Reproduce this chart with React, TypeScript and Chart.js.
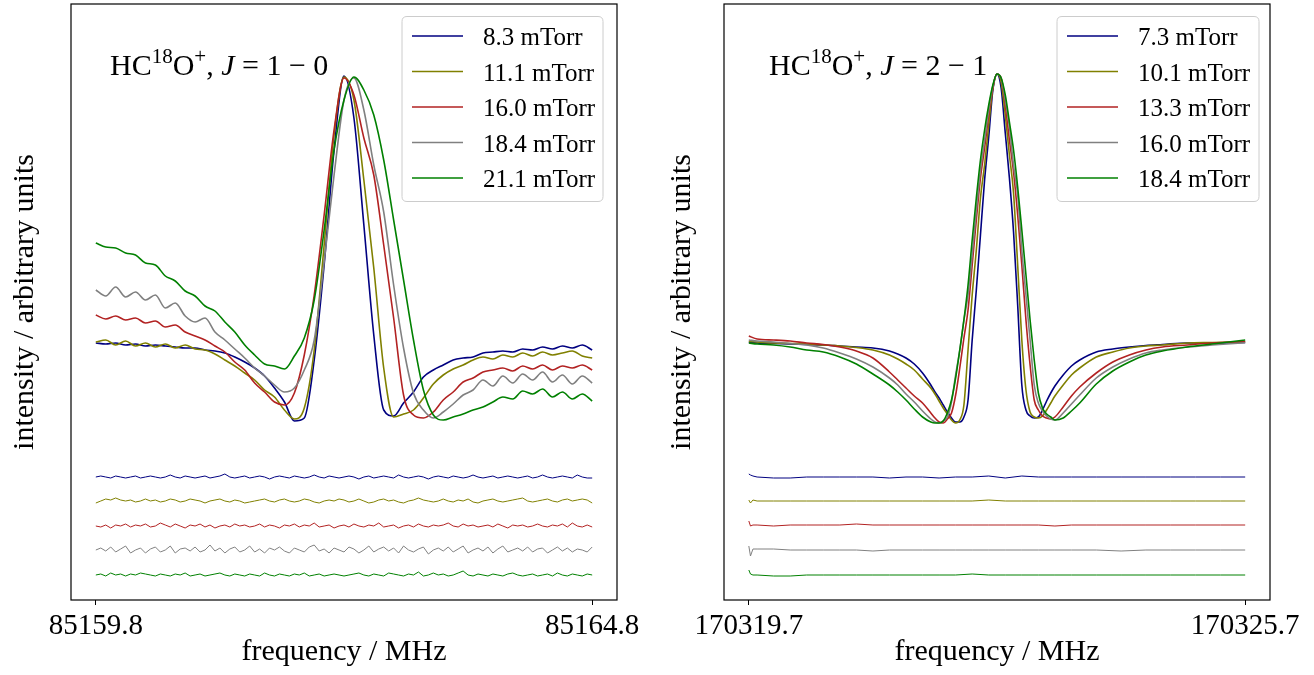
import React, { useEffect, useRef } from "react";
import { Chart, registerables } from "chart.js";

Chart.register(...registerables);

const SERIF = "'Liberation Serif', 'Times New Roman', Times, serif";
const COLORS = ["#000080", "#808000", "#b22222", "#808080", "#008000"];

// ---------------- Panel A : HC18O+  J = 1 - 0 ----------------
const A_FREQ_START = 85159.8; // MHz, spectrum sampling start
const A_FREQ_STEP = 0.1; // MHz
const A_RES_STEP = 0.05; // MHz, residual sampling
const A_XMIN = 85159.55;
const A_XMAX = 85165.05;
const A_TICKS = [85159.8, 85164.8];
const A_LABELS = ["8.3 mTorr", "11.1 mTorr", "16.0 mTorr", "18.4 mTorr", "21.1 mTorr"];

const A_SPEC_83 = [257, 256, 257, 255, 256, 254, 255, 254, 253, 252, 252, 250, 249, 247, 243, 238, 232, 224, 212, 198, 179, 182, 240, 335, 450, 524, 482, 375, 265, 190, 184, 197, 208, 223, 230, 235, 240, 242, 243, 247, 248, 249, 248, 251, 250, 253, 251, 254, 252, 255, 250];
const A_SPEC_111 = [258, 260, 255, 259, 254, 257, 253, 256, 252, 255, 251, 250, 246, 240, 234, 227, 220, 210, 203, 190, 181, 192, 250, 355, 465, 523, 500, 420, 332, 232, 183, 186, 190, 202, 216, 225, 231, 235, 240, 243, 241, 245, 243, 247, 244, 248, 245, 247, 249, 244, 242];
const A_SPEC_160 = [285, 281, 284, 280, 282, 277, 279, 273, 275, 268, 264, 260, 254, 248, 238, 230, 217, 208, 198, 195, 207, 245, 305, 385, 470, 522, 505, 462, 425, 355, 282, 205, 185, 182, 188, 200, 208, 218, 222, 228, 230, 232, 229, 234, 231, 235, 230, 234, 232, 235, 230];
const A_SPEC_184 = [310, 304, 313, 303, 308, 300, 305, 292, 297, 284, 278, 282, 268, 260, 251, 242, 232, 224, 215, 208, 212, 230, 260, 338, 425, 500, 522, 490, 435, 388, 315, 252, 207, 190, 182, 188, 196, 205, 210, 220, 214, 224, 217, 226, 220, 228, 218, 225, 216, 224, 217];
const A_SPEC_211 = [357, 353, 352, 347, 345, 337, 335, 324, 319, 309, 304, 294, 289, 278, 268, 255, 245, 236, 234, 231, 244, 262, 300, 370, 450, 500, 523, 510, 485, 440, 380, 320, 260, 210, 185, 180, 183, 186, 190, 193, 198, 203, 201, 209, 206, 211, 203, 208, 201, 206, 199];

// residuals (observed - fit), plotted with a vertical offset
const A_RES_OFFSETS = [123, 99, 74, 50, 25];
const A_RES_83 = [0, 1, 0, -1, 1, 0, -1, 0, 1, -1, 0, 1, 0, -1, 0, 2, 0, -1, 1, 0, -1, 0, 1, -1, 0, 1, 3, 0, -1, 0, 1, -1, 0, 1, 0, -2, 0, 1, 0, -1, 1, 0, -1, 0, 2, 0, -1, 1, 0, -1, 0, 1, 0, -2, 0, 1, -1, 0, 1, 0, -1, 2, 0, -1, 0, 1, 0, -2, 0, 1, 0, -1, 1, 0, -1, 0, 2, 0, -1, 0, 1, -1, 0, 1, 0, -1, 0, 1, -1, 0, 2, 0, -1, 0, 1, 0, -1, 2, 0, -1, -1];
const A_RES_111 = [-2, 0, 2, 1, 3, 1, 0, 1, -1, 0, 2, 0, 1, -1, 0, 2, 1, -1, 0, 2, 1, 0, -2, 0, 1, 2, 0, -1, 1, 0, -2, -1, 0, 1, 2, 0, -1, 1, 2, 0, -1, 0, 2, 1, -1, -2, 0, 1, 0, 2, 1, -1, 0, 2, 0, -2, -1, 1, 2, 0, 1, -1, -2, 0, 1, 3, 1, 0, -1, 0, 2, 0, -1, 1, 0, 2, -1, -2, 0, 1, 2, 0, -1, 0, 1, 2, 3, 0, -1, 0, 1, 2, 0, -1, 1, 2, 0, 1, 2, 1, -2];
const A_RES_160 = [0, -1, 1, -2, 1, 0, 2, -1, 1, 0, 2, -1, 0, 3, 1, -1, 2, 0, -2, 1, 0, 2, -1, 1, -2, 0, 1, -1, 2, 0, 1, -1, 0, 2, -1, 1, 0, -2, 1, 0, 2, -1, 1, 0, 3, -1, 0, 1, -2, 0, 1, -1, 2, 0, -1, 1, 0, 3, -1, 0, 1, -2, 0, 1, -1, 2, 0, -1, 1, 0, 1, 3, 0, -1, 2, 0, 1, -1, 0, 1, -1, 2, 0, -2, 1, 0, 1, -1, 0, 2, 0, -1, 1, 0, 2, -1, 3, 0, -1, 1, -1];
const A_RES_184 = [0, 2, -1, 3, -2, 1, 4, -3, 0, 2, -3, 1, 3, -2, 0, 4, -3, 1, 2, -1, 3, -2, 0, 5, -1, 2, -3, 1, 3, -2, 0, 4, -2, 1, -3, 2, 0, 3, -1, -3, 2, 0, -2, 3, 5, -1, 1, -3, 2, 0, -2, 3, 1, -3, 0, 4, -2, 1, 3, -1, 2, -3, 4, 0, -2, 1, 3, -4, 0, 2, -1, 3, -2, 1, 4, -3, 0, 2, -1, 3, -3, 1, 4, -2, 0, 2, -1, 3, -2, 1, 2, -3, 0, 3, -1, 2, -2, 1, 0, -2, 3];
const A_RES_211 = [0, 1, -1, 2, 0, 1, -1, 1, 0, 2, 1, 0, -1, 1, 0, -1, 1, 0, 2, -1, 0, 1, -1, 0, 1, 2, 0, -1, 1, 0, -1, 1, 0, -1, 2, 0, -1, 1, 0, -1, 1, 0, 2, -1, 0, 1, -1, 0, 1, 0, -1, 0, 1, 2, 0, -1, 1, 0, -1, 2, 1, 0, -1, 1, 0, 3, -1, 0, 2, 0, 1, -1, 0, 2, 4, 0, -1, 1, 0, -1, 1, 0, -1, 1, 2, 0, -1, 0, 1, -1, 0, 1, -1, 2, 0, -1, 1, 0, -1, 1, 0];

// ---------------- Panel B : HC18O+  J = 2 - 1 ----------------
const B_XMIN = 170319.4;
const B_XMAX = 170326.0;
const B_TICKS = [170319.7, 170325.7];
const B_LABELS = ["7.3 mTorr", "10.1 mTorr", "13.3 mTorr", "16.0 mTorr", "18.4 mTorr"];
const B_FREQ = [170319.7, 170319.8, 170320.0, 170320.2, 170320.4, 170320.6, 170320.8, 170321.0, 170321.2, 170321.4, 170321.5, 170321.6, 170321.7, 170321.8, 170321.9, 170321.95, 170322.0, 170322.05, 170322.1, 170322.15, 170322.2, 170322.25, 170322.3, 170322.35, 170322.4, 170322.45, 170322.5, 170322.55, 170322.6, 170322.65, 170322.7, 170322.75, 170322.8, 170322.85, 170322.9, 170322.95, 170323.0, 170323.05, 170323.1, 170323.15, 170323.2, 170323.25, 170323.3, 170323.35, 170323.4, 170323.5, 170323.6, 170323.7, 170323.9, 170324.1, 170324.3, 170324.5, 170324.7, 170325.0, 170325.3, 170325.7];
const B_SPEC_73 = [258, 257, 256.5, 256, 255.5, 255, 254, 253, 252, 249, 246, 242, 236, 227, 215, 208, 202, 195, 188, 182, 178, 178, 183, 200, 260, 310, 365, 420, 463, 510, 526, 512, 467, 422, 368, 295, 215, 190, 184, 182, 183, 190, 199, 207, 214, 225, 234, 240, 248, 251, 253, 254.5, 255.5, 257, 257, 257.5];
const B_SPEC_101 = [258.5, 258, 257, 256.5, 256, 255, 254, 252.5, 250, 245, 241, 236, 230, 221, 212, 206, 199, 192, 186, 180, 177, 180, 195, 250, 305, 350, 402, 435, 475, 512, 526, 518, 485, 445, 407, 335, 260, 210, 188, 183, 182, 184, 190, 197, 204, 215, 225, 232, 243, 248, 252, 254, 255, 257, 257.5, 258.3];
const B_SPEC_133 = [264, 261, 260, 259, 257, 255.5, 253, 249, 242, 228, 220, 212, 204, 197, 187, 182, 178, 177, 181, 187, 205, 232, 262, 290, 335, 380, 422, 452, 485, 512, 526, 522, 495, 460, 428, 385, 335, 280, 235, 200, 190, 184, 182, 181, 183, 193, 204, 213, 227, 238, 245, 250, 253, 255, 257, 258.5];
const B_SPEC_160 = [260, 259, 258, 256.5, 255, 252, 247, 241, 233, 222, 215, 206, 198, 189, 181, 178, 177, 179, 183, 198, 225, 250, 280, 305, 345, 390, 430, 460, 490, 514, 526, 522, 500, 473, 435, 405, 350, 305, 260, 215, 197, 189, 184, 181, 180, 187, 196, 205, 222, 233, 241, 247, 250, 253, 255, 257.3];
const B_SPEC_184 = [257, 256, 255, 253, 250, 248, 243, 236, 226, 215, 208, 200, 191, 183, 178, 177, 177, 179, 187, 200, 222, 250, 280, 315, 360, 402, 440, 470, 495, 515, 526, 522, 505, 478, 450, 413, 370, 325, 280, 240, 207, 192, 186, 183, 180, 182, 189, 197, 216, 229, 238, 245, 249, 253, 256, 260];

const B_RES_FREQ = [170319.7, 170319.72, 170319.75, 170319.8, 170320.0, 170320.2, 170320.4, 170320.6, 170320.8, 170321.0, 170321.2, 170321.4, 170321.6, 170321.8, 170322.0, 170322.2, 170322.4, 170322.6, 170322.8, 170323.0, 170323.2, 170323.4, 170323.6, 170323.9, 170324.2, 170324.5, 170324.8, 170325.1, 170325.4, 170325.7];
const B_RES_OFFSETS = [123, 99, 75, 50, 25];
const B_RES_73 = [3, 2, 1, 0, -1, -1, 0, 0, 0, 0, 0, -1, 0, 0, -1, 0, 0, 1, -1, 1, 0, 0, 0, 0, 0, 0, 0, 0, 0, 0];
const B_RES_101 = [1, -2, 1, 0, 0, 0, 0, 0, 0, 0, 0, 0, 0, 0, 0, 0, 0, 1, 0, 0, 0, 0, 0, 0, 0, 0, 0, 0, 0, 0];
const B_RES_133 = [4, -1, 0, 0, -1, 0, 0, 0, 0, 1, 0, 0, 0, 0, 0, 0, 0, 0, 0, 0, 0, -1, 0, 0, 0, 0, 0, 0, 0, 0];
const B_RES_160 = [4, -6, 1, 1, 1, 0, 0, 0, 0, 0, -1, 0, 0, 0, 0, 0, 0, 0, 0, 0, 0, 0, 0, 0, -1, 0, 0, 0, 0, 0];
const B_RES_184 = [5, 1, 0, 0, -1, -1, 0, 0, 0, 0, 0, 0, 0, 0, 0, 0, 1, 0, 0, 0, 0, 0, 0, 0, 0, 0, 0, 0, 0, 0];

const Y_MIN = 0;
const Y_MAX = 596;

type PanelDef = {
  freqs: number[];
  specs: number[][];
  resFreqs: number[];
  res: number[][];
  offsets: number[];
  labels: string[];
  ticks: number[];
  xmin: number;
  xmax: number;
  yAxisWidth: number;
  padRight: number;
  annotParts: [string, string, number][];
  annotDX: number;
  legendDX: number;
  legendW: number;
};

function gridFrom(start: number, step: number, n: number): number[] {
  const out: number[] = [];
  for (let i = 0; i < n; i++) out.push(+(start + i * step).toFixed(3));
  return out;
}

function buildDatasets(p: PanelDef) {
  const ds: any[] = [];
  p.specs.forEach((s, k) => {
    ds.push({
      label: p.labels[k],
      data: s.map((y, i) => ({ x: p.freqs[i], y })),
      borderColor: COLORS[k],
      borderWidth: 1.6,
      pointRadius: 0,
      fill: false,
      cubicInterpolationMode: "monotone",
      order: 5 - k,
    });
  });
  p.res.forEach((r, k) => {
    ds.push({
      label: p.labels[k] + " residual",
      data: r.map((y, i) => ({ x: p.resFreqs[i], y: p.offsets[k] + y })),
      borderColor: COLORS[k],
      borderWidth: 1,
      pointRadius: 0,
      fill: false,
      order: 10,
    });
  });
  return ds;
}

function makeOverlay(p: PanelDef) {
  return {
    id: "overlay",
    afterDatasetsDraw(chart: any) {
      const { ctx, chartArea: a } = chart;
      ctx.save();
      // axes frame
      ctx.strokeStyle = "#000";
      ctx.lineWidth = 1.2;
      ctx.strokeRect(a.left, a.top, a.right - a.left, a.bottom - a.top);

      // annotation text with superscripts
      let cx = a.left + p.annotDX;
      const by = a.top + 71;
      ctx.fillStyle = "#000";
      ctx.textAlign = "left";
      ctx.textBaseline = "alphabetic";
      p.annotParts.forEach(([t, font, dy]) => {
        ctx.font = font;
        ctx.fillText(t, cx, by + dy);
        cx += ctx.measureText(t).width;
      });

      // legend
      const bw = p.legendW;
      const bh = 185;
      const bx = a.right - p.legendDX;
      const byy = a.top + 12.5;
      const r = 5;
      ctx.beginPath();
      ctx.moveTo(bx + r, byy);
      ctx.lineTo(bx + bw - r, byy);
      ctx.quadraticCurveTo(bx + bw, byy, bx + bw, byy + r);
      ctx.lineTo(bx + bw, byy + bh - r);
      ctx.quadraticCurveTo(bx + bw, byy + bh, bx + bw - r, byy + bh);
      ctx.lineTo(bx + r, byy + bh);
      ctx.quadraticCurveTo(bx, byy + bh, bx, byy + bh - r);
      ctx.lineTo(bx, byy + r);
      ctx.quadraticCurveTo(bx, byy, bx + r, byy);
      ctx.closePath();
      ctx.fillStyle = "rgba(255,255,255,0.8)";
      ctx.fill();
      ctx.strokeStyle = "#cccccc";
      ctx.lineWidth = 1;
      ctx.stroke();
      p.labels.forEach((lab, k) => {
        const ly = a.top + 32 + k * 35.5;
        ctx.strokeStyle = COLORS[k];
        ctx.lineWidth = 1.6;
        ctx.beginPath();
        ctx.moveTo(bx + 10, ly);
        ctx.lineTo(bx + 61, ly);
        ctx.stroke();
        ctx.fillStyle = "#000";
        ctx.font = `25px ${SERIF}`;
        ctx.textBaseline = "alphabetic";
        ctx.fillText(lab, bx + 81, ly + 9);
      });
      ctx.restore();
    },
  };
}

function makeConfig(p: PanelDef): any {
  return {
    type: "line",
    data: { datasets: buildDatasets(p) },
    options: {
      animation: false,
      responsive: false,
      maintainAspectRatio: false,
      devicePixelRatio: 1,
      events: [],
      layout: { padding: { top: 4, right: p.padRight, left: 0, bottom: 0 } },
      plugins: {
        legend: { display: false },
        tooltip: { enabled: false },
        title: { display: false },
      },
      scales: {
        x: {
          type: "linear",
          min: p.xmin,
          max: p.xmax,
          afterBuildTicks: (s: any) => {
            s.ticks = p.ticks.map((v) => ({ value: v }));
          },
          afterFit: (s: any) => {
            s.height = 75;
          },
          ticks: {
            autoSkip: false,
            maxRotation: 0,
            minRotation: 0,
            padding: 4,
            color: "#000",
            font: { family: SERIF, size: 29 },
            callback: (v: any) => Number(v).toFixed(1),
          },
          grid: {
            display: true,
            drawOnChartArea: false,
            drawTicks: true,
            tickLength: 5,
            color: "#000",
            lineWidth: 1,
          },
          border: { display: false },
          title: {
            display: true,
            text: "frequency / MHz",
            color: "#000",
            font: { family: SERIF, size: 30 },
            padding: { top: 0, bottom: 5 },
          },
        },
        y: {
          type: "linear",
          min: Y_MIN,
          max: Y_MAX,
          ticks: { display: false },
          grid: { display: false },
          border: { display: false },
          afterFit: (s: any) => {
            s.width = p.yAxisWidth;
          },
          title: {
            display: true,
            text: "intensity / arbitrary units",
            color: "#000",
            font: { family: SERIF, size: 30 },
            padding: { top: 7, bottom: 0 },
          },
        },
      },
    },
    plugins: [makeOverlay(p)],
  };
}

const BIG = `30px ${SERIF}`;
const SMALL = `21px ${SERIF}`;
const ITAL = `italic 30px ${SERIF}`;

const PANEL_A: PanelDef = {
  freqs: gridFrom(A_FREQ_START, A_FREQ_STEP, A_SPEC_83.length),
  specs: [A_SPEC_83, A_SPEC_111, A_SPEC_160, A_SPEC_184, A_SPEC_211],
  resFreqs: gridFrom(A_FREQ_START, A_RES_STEP, A_RES_83.length),
  res: [A_RES_83, A_RES_111, A_RES_160, A_RES_184, A_RES_211],
  offsets: A_RES_OFFSETS,
  labels: A_LABELS,
  ticks: A_TICKS,
  xmin: A_XMIN,
  xmax: A_XMAX,
  yAxisWidth: 71,
  padRight: 40,
  annotParts: [
    ["HC", BIG, 0],
    ["18", SMALL, -12],
    ["O", BIG, 0],
    ["+", SMALL, -12],
    [", ", BIG, 0],
    ["J", ITAL, 0],
    [" = 1 − 0", BIG, 0],
  ],
  annotDX: 39,
  legendDX: 215,
  legendW: 201,
};

const PANEL_B: PanelDef = {
  freqs: B_FREQ,
  specs: [B_SPEC_73, B_SPEC_101, B_SPEC_133, B_SPEC_160, B_SPEC_184],
  resFreqs: B_RES_FREQ,
  res: [B_RES_73, B_RES_101, B_RES_133, B_RES_160, B_RES_184],
  offsets: B_RES_OFFSETS,
  labels: B_LABELS,
  ticks: B_TICKS,
  xmin: B_XMIN,
  xmax: B_XMAX,
  yAxisWidth: 67,
  padRight: 44,
  annotParts: [
    ["HC", BIG, 0],
    ["18", SMALL, -12],
    ["O", BIG, 0],
    ["+", SMALL, -12],
    [", ", BIG, 0],
    ["J", ITAL, 0],
    [" = 2 − 1", BIG, 0],
  ],
  annotDX: 45,
  legendDX: 213,
  legendW: 202,
};

function Panel({ def, left }: { def: PanelDef; left: number }) {
  const ref = useRef<HTMLCanvasElement | null>(null);
  useEffect(() => {
    if (!ref.current) return;
    const chart = new Chart(ref.current, makeConfig(def));
    return () => chart.destroy();
  }, [def]);
  return (
    <div style={{ position: "absolute", left, top: 0, width: 657, height: 675 }}>
      <canvas ref={ref} width={657} height={675} style={{ display: "block" }} />
    </div>
  );
}

export default function App() {
  return (
    <div
      style={{
        position: "fixed",
        left: 0,
        top: 0,
        width: 1314,
        height: 675,
        background: "#ffffff",
        overflow: "hidden",
      }}
    >
      <Panel def={PANEL_A} left={0} />
      <Panel def={PANEL_B} left={657} />
    </div>
  );
}
